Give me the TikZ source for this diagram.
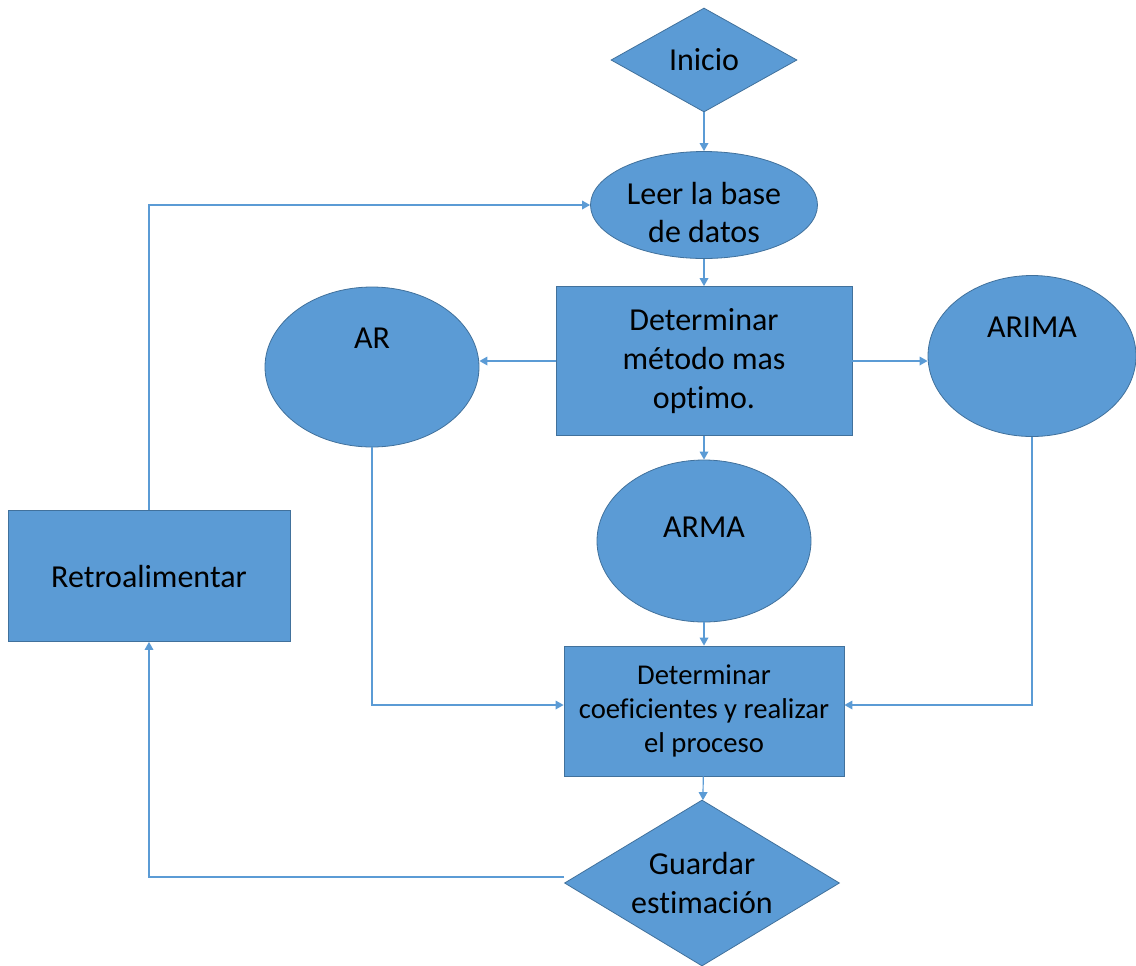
\documentclass[tikz,border=0pt]{standalone}
\usepackage{fontspec}
\setmainfont{Carlito}[Ligatures=NoCommon]
\usetikzlibrary{arrows.meta,shapes.geometric}
\definecolor{boxblue}{HTML}{5B9BD5}
\definecolor{boxedge}{HTML}{41719C}

\begin{document}
\begin{tikzpicture}[x=0.75pt,y=-0.75pt,
  shp/.style={fill=boxblue,draw=boxedge,line width=0.6pt,inner sep=0pt,align=center,
    font=\fontsize{24}{29}\selectfont},
  rbox/.style={shp,rectangle},
  oval/.style={shp,ellipse},
  rhomb/.style={shp,diamond},
  every label/.style={font=\fontsize{24}{29}\selectfont,inner sep=0pt,align=center},
  link/.style={draw=boxblue,line width=0.9pt,-{Triangle[length=6pt,width=6.5pt]}}]
\useasboundingbox (0,0) rectangle (1136,965);
\node[rhomb,minimum width=139.5pt,minimum height=78pt] (inicio) at (704,60) {Inicio};
\node[oval,minimum width=170.25pt,minimum height=80.25pt,label={[yshift=-5.5pt]center:Leer la base\\de datos}] (leer) at (704,205) {};
\node[rbox,minimum width=222pt,minimum height=111.75pt] (metodo) at (704,361) {Determinar\\método mas\\optimo.};
\node[oval,minimum width=160.5pt,minimum height=120pt,label={[yshift=21.75pt]center:AR}] (ar) at (372,367) {};
\node[oval,minimum width=156pt,minimum height=120.75pt,label={[yshift=21.75pt]center:ARIMA}] (arima) at (1032,356) {};
\node[oval,minimum width=160.5pt,minimum height=121.5pt,label={[yshift=10.5pt]center:ARMA}] (arma) at (704,541) {};
\node[rbox,minimum width=210pt,minimum height=97.5pt,font=\fontsize{21.5}{25.5}\selectfont] (coef) at (704,711) {Determinar\\coeficientes y realizar\\el proceso};
\node[rhomb,minimum width=206.25pt,minimum height=124.5pt,shape aspect=1.65] (guardar) at (702,883) {Guardar\\estimación};
\node[rbox,minimum width=211.5pt,minimum height=98.25pt] (retro) at (149,576) {Retroalimentar};
\draw[link] (inicio) -- (leer);
\draw[link] (retro.north) |- (leer.west);
\draw[link] (leer) -- (metodo);
\draw[link] (metodo.west) -- (metodo.west -| ar.east);
\draw[link] (metodo.east) -- (metodo.east -| arima.west);
\draw[link] (metodo) -- (arma);
\draw[link] (ar.south) |- ([yshift=4.5pt]coef.west);
\draw[link] (arima.south) |- ([yshift=4.5pt]coef.east);
\draw[link] (arma) -- (coef);
\draw[link] (coef) -- (guardar);
\draw[link] ([yshift=4.5pt]guardar.west) -| (retro.south);
\end{tikzpicture}
\end{document}
